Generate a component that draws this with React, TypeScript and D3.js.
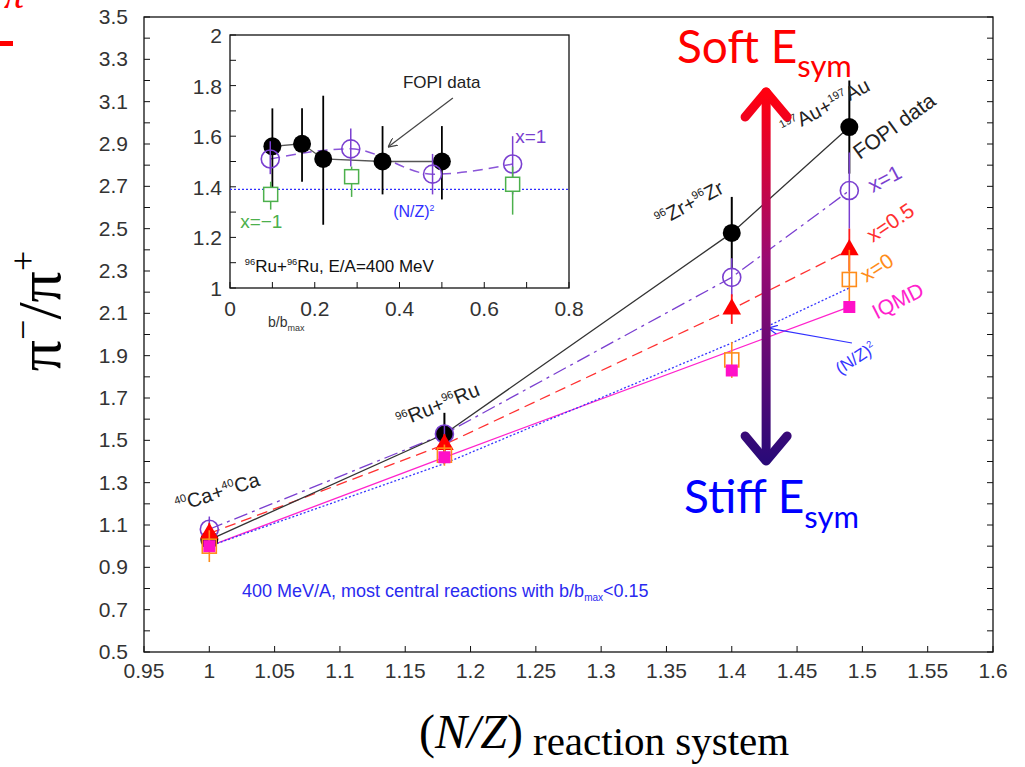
import React, { useEffect, useRef } from "react";
import * as d3 from "d3";

// main panel: pi-/pi+ vs (N/Z) of the reaction system
const systems = [1, 1.18, 1.4, 1.49];
const fopi = [1.03, 1.53, 2.48, 2.98];
const fopiErr = [0.04, 0.1, 0.17, 0.22];
const x1 = [1.08, 1.53, 2.27, 2.68];
const x1Err = [0.06, 0.04, 0.09, 0.18];
const x05 = [1.06, 1.48, 2.12, 2.4];
const x05Err = [0.05, 0.05, 0.07, 0.1];
const x0 = [1.0, 1.43, 1.88, 2.26];
const x0Err = [0.075, 0.05, 0.085, 0.14];
const iqmd = [1.0, 1.42, 1.83, 2.13];
const iqmdLineIdx = [0, 1, 3];
const nzSquared = [1.0, 1.39, 1.96, 2.22];

const xTickLabels = ["0.95", "1", "1.05", "1.1", "1.15", "1.2", "1.25", "1.3", "1.35", "1.4", "1.45", "1.5", "1.55", "1.6"];
const yTickLabels = ["0.5", "0.7", "0.9", "1.1", "1.3", "1.5", "1.7", "1.9", "2.1", "2.3", "2.5", "2.7", "2.9", "3.1", "3.3", "3.5"];

// inset: Ru+Ru vs b/bmax
const insetB = [0.1, 0.17, 0.22, 0.36, 0.5];
const insetFopi = [1.56, 1.57, 1.51, 1.5, 1.5];
const insetFopiLo = [1.37, 1.42, 1.25, 1.37, 1.35];
const insetFopiHi = [1.71, 1.71, 1.76, 1.64, 1.64];
const insetX1B = [0.095, 0.285, 0.478, 0.667];
const insetX1 = [1.51, 1.55, 1.45, 1.49];
const insetX1Lo = [1.45, 1.48, 1.37, 1.37];
const insetX1Hi = [1.58, 1.63, 1.53, 1.6];
const insetXm1B = [0.096, 0.287, 0.667];
const insetXm1 = [1.37, 1.44, 1.41];
const insetXm1Lo = [1.31, 1.36, 1.29];
const insetXm1Hi = [1.42, 1.48, 1.48];
const insetNz2 = 1.39;
const insetXTickLabels = ["0", "0.2", "0.4", "0.6", "0.8"];
const insetYTickLabels = ["1", "1.2", "1.4", "1.6", "1.8", "2"];

const SANS = "'Liberation Sans', Arial, sans-serif";
const SERIF = "'Liberation Serif', 'Times New Roman', serif";

type Part = { t: string; sup?: boolean };

const App = () => {
  const svgRef = useRef<SVGSVGElement | null>(null);

  useEffect(() => {
    const svg = d3.select(svgRef.current);
    svg.selectAll("*").remove();

    const x = d3.scaleLinear().domain([0.95, 1.6]).range([144, 993]);
    const y = d3.scaleLinear().domain([0.5, 3.5]).range([652, 17]);
    const ix = d3.scaleLinear().domain([0, 0.8]).range([230, 569]);
    const iy = d3.scaleLinear().domain([1, 2]).range([288, 35]);

    const defs = svg.append("defs");
    const grad = defs
      .append("linearGradient")
      .attr("id", "esym")
      .attr("gradientUnits", "userSpaceOnUse")
      .attr("x1", 0)
      .attr("x2", 0)
      .attr("y1", 95)
      .attr("y2", 460);
    grad.append("stop").attr("offset", "0%").attr("stop-color", "#ff0010");
    grad.append("stop").attr("offset", "45%").attr("stop-color", "#9a0a72");
    grad.append("stop").attr("offset", "100%").attr("stop-color", "#2a0a78");

    const mk = (id: string, color: string) =>
      defs
        .append("marker")
        .attr("id", id)
        .attr("viewBox", "0 0 10 10")
        .attr("refX", 10)
        .attr("refY", 5)
        .attr("markerWidth", 9)
        .attr("markerHeight", 9)
        .attr("markerUnits", "userSpaceOnUse")
        .attr("orient", "auto")
        .append("path")
        .attr("d", "M0,0L10,5L0,10")
        .attr("fill", "none")
        .attr("stroke", color)
        .attr("stroke-width", 1.4);
    mk("arrGray", "#444");
    mk("arrBlue", "#3030ff");

    // helper for text with superscripts
    const richText = (
      g: d3.Selection<any, any, any, any>,
      parts: Part[],
      size: number,
      color: string,
      family = SANS
    ) => {
      const t = g.append("text").attr("font-family", family).attr("font-size", size).attr("fill", color);
      let up = false;
      parts.forEach((p) => {
        const s = t.append("tspan").text(p.t);
        if (p.sup && !up) {
          s.attr("dy", -size * 0.4).attr("font-size", size * 0.55);
          up = true;
        } else if (p.sup) {
          s.attr("font-size", size * 0.55);
        } else if (up) {
          s.attr("dy", size * 0.4);
          up = false;
        }
      });
      return t;
    };

    // ---------- main frame and ticks ----------
    const main = svg.append("g");
    main
      .append("rect")
      .attr("x", x(0.95))
      .attr("y", y(3.5))
      .attr("width", x(1.6) - x(0.95))
      .attr("height", y(0.5) - y(3.5))
      .attr("fill", "none")
      .attr("stroke", "#111")
      .attr("stroke-width", 1.3);

    const yMinor = d3.range(0, 31).map((i) => 0.5 + i * 0.1);
    main
      .selectAll(".ytl")
      .data(yMinor)
      .join("line")
      .attr("x1", x(0.95))
      .attr("x2", x(0.95) + 6)
      .attr("y1", (d) => y(d))
      .attr("y2", (d) => y(d))
      .attr("stroke", "#111");
    main
      .selectAll(".ytr")
      .data(yMinor)
      .join("line")
      .attr("x1", x(1.6))
      .attr("x2", x(1.6) - 6)
      .attr("y1", (d) => y(d))
      .attr("y2", (d) => y(d))
      .attr("stroke", "#111");
    main
      .selectAll(".xt")
      .data(xTickLabels)
      .join("line")
      .attr("x1", (d) => x(+d))
      .attr("x2", (d) => x(+d))
      .attr("y1", y(0.5))
      .attr("y2", y(0.5) - 6)
      .attr("stroke", "#111");

    main
      .selectAll(".ylab")
      .data(yTickLabels)
      .join("text")
      .attr("x", x(0.95) - 16)
      .attr("y", (d) => y(+d) + 7)
      .attr("text-anchor", "end")
      .attr("font-family", SANS)
      .attr("font-size", 21)
      .attr("fill", "#333")
      .text((d) => d);
    main
      .selectAll(".xlab")
      .data(xTickLabels)
      .join("text")
      .attr("x", (d) => x(+d))
      .attr("y", y(0.5) + 26)
      .attr("text-anchor", "middle")
      .attr("font-family", SANS)
      .attr("font-size", 21)
      .attr("fill", "#333")
      .text((d) => d);

    // ---------- main lines ----------
    const line = d3
      .line<[number, number]>()
      .x((d) => x(d[0]))
      .y((d) => y(d[1]));
    const pts = (vals: number[]) => systems.map((s, i) => [s, vals[i]] as [number, number]);

    main.append("path").attr("d", line(iqmdLineIdx.map((i) => [systems[i], iqmd[i]] as [number, number])))
      .attr("fill", "none").attr("stroke", "#ff22cc").attr("stroke-width", 1.3);
    main.append("path").attr("d", line(pts(nzSquared)))
      .attr("fill", "none").attr("stroke", "#3535ff").attr("stroke-width", 1.3).attr("stroke-dasharray", "2,2");
    main.append("path").attr("d", line(pts(x05)))
      .attr("fill", "none").attr("stroke", "#ff3030").attr("stroke-width", 1.3).attr("stroke-dasharray", "11,6");
    main.append("path").attr("d", line(pts(x1)))
      .attr("fill", "none").attr("stroke", "#7a3fd0").attr("stroke-width", 1.3).attr("stroke-dasharray", "14,5,3,5");
    main.append("path").attr("d", line(pts(fopi)))
      .attr("fill", "none").attr("stroke", "#333").attr("stroke-width", 1.3);

    // ---------- main error bars and markers ----------
    const errBars = (vals: number[], errs: number[], color: string, w: number) =>
      main
        .append("g")
        .selectAll("line")
        .data(systems)
        .join("line")
        .attr("x1", (d) => x(d))
        .attr("x2", (d) => x(d))
        .attr("y1", (d, i) => y(vals[i] - errs[i]))
        .attr("y2", (d, i) => y(vals[i] + errs[i]))
        .attr("stroke", color)
        .attr("stroke-width", w);

    errBars(fopi, fopiErr, "#000", 2);
    main.append("g").selectAll("circle").data(systems).join("circle")
      .attr("cx", (d) => x(d)).attr("cy", (d, i) => y(fopi[i])).attr("r", 9).attr("fill", "#000");

    errBars(x1, x1Err, "#7a3fd0", 1.5);
    main.append("g").selectAll("circle").data(systems).join("circle")
      .attr("cx", (d) => x(d)).attr("cy", (d, i) => y(x1[i])).attr("r", 9)
      .attr("fill", "none").attr("stroke", "#7a3fd0").attr("stroke-width", 1.6);

    errBars(x05, x05Err, "#ff1a1a", 1.8);
    main.append("g").selectAll("path").data(systems).join("path")
      .attr("d", d3.symbol().type(d3.symbolTriangle).size(150)())
      .attr("transform", (d, i) => `translate(${x(d)},${y(x05[i])})`)
      .attr("fill", "#ff0000");

    errBars(x0, x0Err, "#ff8c1a", 1.6);
    main.append("g").selectAll("rect").data(systems).join("rect")
      .attr("x", (d) => x(d) - 7).attr("y", (d, i) => y(x0[i]) - 7).attr("width", 14).attr("height", 14)
      .attr("fill", "none").attr("stroke", "#ff8c1a").attr("stroke-width", 1.6);

    main.append("g").selectAll("rect").data(systems).join("rect")
      .attr("x", (d) => x(d) - 6).attr("y", (d, i) => y(iqmd[i]) - 6).attr("width", 12).attr("height", 12)
      .attr("fill", "#ff10c8");

    // ---------- main annotations ----------
    const rot = (px: number, py: number, a: number) => `translate(${px},${py}) rotate(${a})`;
    richText(main, [{ t: "40", sup: true }, { t: "Ca+" }, { t: "40", sup: true }, { t: "Ca" }], 20, "#222")
      .attr("transform", rot(x(0.976), y(1.16), -18));
    richText(main, [{ t: "96", sup: true }, { t: "Ru+" }, { t: "96", sup: true }, { t: "Ru" }], 20, "#222")
      .attr("transform", rot(x(1.146), y(1.56), -22));
    richText(main, [{ t: "96", sup: true }, { t: "Zr+" }, { t: "96", sup: true }, { t: "Zr" }], 20, "#222")
      .attr("transform", rot(x(1.345), y(2.508), -28));
    richText(main, [{ t: "197", sup: true }, { t: "Au+" }, { t: "197", sup: true }, { t: "Au" }], 20, "#222")
      .attr("transform", rot(x(1.441), y(2.94), -28));
    richText(main, [{ t: "FOPI data" }], 21, "#222").attr("transform", rot(x(1.498), y(2.824), -36));
    richText(main, [{ t: "x=1" }], 21, "#7a3fd0").attr("transform", rot(x(1.508), y(2.668), -28));
    richText(main, [{ t: "x=0.5" }], 21, "#ff3030").attr("transform", rot(x(1.508), y(2.432), -34));
    richText(main, [{ t: "x=0" }], 21, "#ff8c1a").attr("transform", rot(x(1.503), y(2.243), -33));
    richText(main, [{ t: "IQMD" }], 21, "#ff22cc").attr("transform", rot(x(1.511), y(2.07), -27));
    richText(main, [{ t: "(N/Z)" }, { t: "2", sup: true }], 17, "#3535ff").attr("transform", rot(x(1.483), y(1.809), -33));
    main.append("line")
      .attr("x1", x(1.492)).attr("y1", y(1.96)).attr("x2", x(1.428)).attr("y2", y(2.03))
      .attr("stroke", "#3030ff").attr("stroke-width", 1.2).attr("marker-end", "url(#arrBlue)");
    richText(main, [{ t: "400 MeV/A, most central reactions with b/b" }, { t: "max", sup: false }], 18, "#2a2af0")
      .attr("transform", `translate(${x(1.025)},${y(0.76)})`)
      .call((t) => {
        t.select("tspan:last-child").attr("font-size", 10).attr("dy", 4);
        t.append("tspan").attr("dy", -4).text("<0.15");
      });

    // ---------- soft / stiff arrow ----------
    const ax = x(1.4263);
    const arrow = svg.append("g").attr("stroke", "url(#esym)").attr("stroke-width", 9).attr("fill", "none")
      .attr("stroke-linecap", "round").attr("stroke-linejoin", "round");
    arrow.append("line").attr("x1", ax).attr("x2", ax).attr("y1", 92).attr("y2", 460);
    arrow.append("path").attr("d", `M${ax - 21},${117}L${ax},${92}L${ax + 21},${117}`);
    arrow.append("path").attr("d", `M${ax - 21},${436}L${ax},${461}L${ax + 21},${436}`);

    const soft = svg.append("text").attr("x", 677).attr("y", 63).attr("font-family", "Lato, 'Open Sans', sans-serif")
      .attr("font-size", 46).attr("fill", "#ff0000");
    soft.append("tspan").text("Soft E");
    soft.append("tspan").attr("dy", 14).attr("font-size", 31).text("sym");
    const stiff = svg.append("text").attr("x", 684).attr("y", 513).attr("font-family", "Lato, 'Open Sans', sans-serif")
      .attr("font-size", 46).attr("fill", "#0000ff");
    stiff.append("tspan").text("Stiff E");
    stiff.append("tspan").attr("dy", 15).attr("font-size", 31).text("sym");

    // ---------- axis titles ----------
    const ylab = svg.append("text").attr("transform", "translate(60,311) rotate(-90)").attr("text-anchor", "middle")
      .attr("font-family", SERIF).attr("font-size", 62).attr("fill", "#000");
    ylab.append("tspan").text("π");
    ylab.append("tspan").attr("dy", -25).attr("font-size", 36).text("−");
    ylab.append("tspan").attr("dy", 25).text("/π");
    ylab.append("tspan").attr("dy", -25).attr("font-size", 36).text("+");

    const xlab = svg.append("text").attr("x", 419).attr("y", 748).attr("font-family", SERIF).attr("fill", "#000");
    xlab.append("tspan").attr("font-size", 48).text("(");
    xlab.append("tspan").attr("font-size", 48).attr("font-style", "italic").text("N/Z");
    xlab.append("tspan").attr("font-size", 48).text(")");
    xlab.append("tspan").attr("font-size", 41).attr("dx", 10).attr("dy", 7).text("reaction system");

    // cropped red label at the top-left corner
    svg.append("text").attr("x", 4).attr("y", 8).attr("font-family", SERIF).attr("font-style", "italic")
      .attr("font-size", 40).attr("fill", "#ff0000").text("π");
    svg.append("rect").attr("x", 0).attr("y", 41).attr("width", 13).attr("height", 5).attr("fill", "#ff0000");

    // ---------- inset ----------
    const ins = svg.append("g");
    ins.append("rect").attr("x", ix(0)).attr("y", iy(2)).attr("width", ix(0.8) - ix(0)).attr("height", iy(1) - iy(2))
      .attr("fill", "#fff").attr("stroke", "#111").attr("stroke-width", 1.3);
    const iyMinor = d3.range(0, 11).map((i) => 1 + i * 0.1);
    ins.selectAll(".iyt").data(iyMinor).join("line")
      .attr("x1", ix(0)).attr("x2", ix(0) + 6).attr("y1", (d) => iy(d)).attr("y2", (d) => iy(d)).attr("stroke", "#111");
    const ixMinor = d3.range(0, 9).map((i) => i * 0.1);
    ins.selectAll(".ixt").data(ixMinor).join("line")
      .attr("x1", (d) => ix(d)).attr("x2", (d) => ix(d)).attr("y1", iy(1)).attr("y2", iy(1) - 6).attr("stroke", "#111");
    ins.selectAll(".iyl").data(insetYTickLabels).join("text")
      .attr("x", ix(0) - 8).attr("y", (d) => iy(+d) + 8).attr("text-anchor", "end")
      .attr("font-family", SANS).attr("font-size", 21).attr("fill", "#333").text((d) => d);
    ins.selectAll(".ixl").data(insetXTickLabels).join("text")
      .attr("x", (d) => ix(+d)).attr("y", iy(1) + 28).attr("text-anchor", "middle")
      .attr("font-family", SANS).attr("font-size", 21).attr("fill", "#333").text((d) => d);

    const bl = svg.append("text").attr("x", 268).attr("y", 327).attr("font-family", SANS).attr("font-size", 14).attr("fill", "#333");
    bl.append("tspan").text("b/b");
    bl.append("tspan").attr("dy", 4).attr("font-size", 9).text("max");

    ins.append("line").attr("x1", ix(0)).attr("x2", ix(0.8)).attr("y1", iy(insetNz2)).attr("y2", iy(insetNz2))
      .attr("stroke", "#2f2fff").attr("stroke-width", 1.3).attr("stroke-dasharray", "2,2");

    const iline = d3.line<number>().x((d, i) => ix(insetX1B[i])).y((d) => iy(d)).curve(d3.curveMonotoneX);
    ins.append("path").attr("d", iline(insetX1)).attr("fill", "none").attr("stroke", "#8a55d8")
      .attr("stroke-width", 1.5).attr("stroke-dasharray", "10,6");
    const fline = d3.line<number>().x((d, i) => ix(insetB[i])).y((d) => iy(d));
    ins.append("path").attr("d", fline(insetFopi)).attr("fill", "none").attr("stroke", "#555").attr("stroke-width", 1.3);

    ins.append("g").selectAll("line").data(insetB).join("line")
      .attr("x1", (d) => ix(d)).attr("x2", (d) => ix(d))
      .attr("y1", (d, i) => iy(insetFopiLo[i])).attr("y2", (d, i) => iy(insetFopiHi[i]))
      .attr("stroke", "#000").attr("stroke-width", 1.8);
    ins.append("g").selectAll("circle").data(insetB).join("circle")
      .attr("cx", (d) => ix(d)).attr("cy", (d, i) => iy(insetFopi[i])).attr("r", 9).attr("fill", "#000");

    ins.append("g").selectAll("line").data(insetX1B).join("line")
      .attr("x1", (d) => ix(d)).attr("x2", (d) => ix(d))
      .attr("y1", (d, i) => iy(insetX1Lo[i])).attr("y2", (d, i) => iy(insetX1Hi[i]))
      .attr("stroke", "#7a3fd0").attr("stroke-width", 1.5);
    ins.append("g").selectAll("circle").data(insetX1B).join("circle")
      .attr("cx", (d) => ix(d)).attr("cy", (d, i) => iy(insetX1[i])).attr("r", 9)
      .attr("fill", "none").attr("stroke", "#7a3fd0").attr("stroke-width", 1.6);

    ins.append("g").selectAll("line").data(insetXm1B).join("line")
      .attr("x1", (d) => ix(d)).attr("x2", (d) => ix(d))
      .attr("y1", (d, i) => iy(insetXm1Lo[i])).attr("y2", (d, i) => iy(insetXm1Hi[i]))
      .attr("stroke", "#4cb04c").attr("stroke-width", 1.5);
    ins.append("g").selectAll("rect").data(insetXm1B).join("rect")
      .attr("x", (d) => ix(d) - 7).attr("y", (d, i) => iy(insetXm1[i]) - 7).attr("width", 14).attr("height", 14)
      .attr("fill", "#fff").attr("stroke", "#4cb04c").attr("stroke-width", 1.5);

    richText(ins, [{ t: "FOPI data" }], 17, "#222").attr("transform", `translate(${ix(0.408)},${iy(1.79)})`);
    ins.append("line").attr("x1", ix(0.526)).attr("y1", iy(1.751)).attr("x2", ix(0.373)).attr("y2", iy(1.557))
      .attr("stroke", "#444").attr("stroke-width", 1.2).attr("marker-end", "url(#arrGray)");
    richText(ins, [{ t: "x=1" }], 19, "#7a3fd0").attr("transform", `translate(${ix(0.673)},${iy(1.573)})`);
    richText(ins, [{ t: "x=−1" }], 19, "#4cb04c").attr("transform", `translate(${ix(0.024)},${iy(1.237)})`);
    richText(ins, [{ t: "(N/Z)" }, { t: "2", sup: true }], 16, "#2f2fff").attr("transform", `translate(${ix(0.385)},${iy(1.28)})`);
    richText(ins, [{ t: "96", sup: true }, { t: "Ru+" }, { t: "96", sup: true }, { t: "Ru, E/A=400 MeV" }], 17, "#111")
      .attr("transform", `translate(${ix(0.035)},${iy(1.063)})`);
  }, []);

  return (
    <svg
      ref={svgRef}
      width={1025}
      height={767}
      style={{ position: "absolute", left: 0, top: 0, background: "#fff" }}
    ></svg>
  );
};

export default App;
